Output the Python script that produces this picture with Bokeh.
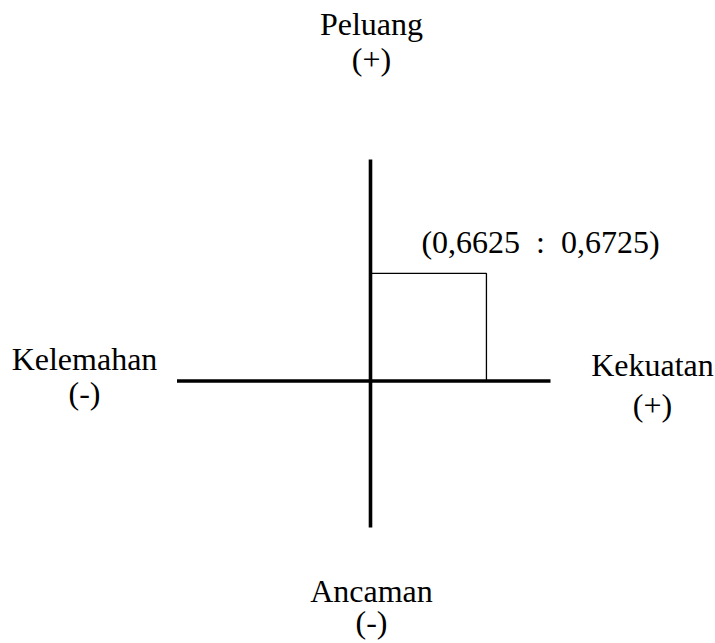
from bokeh.plotting import figure
from bokeh.embed import file_html
from bokeh.resources import INLINE
from bokeh.models import Range1d
from bokeh.core.properties import value

# ---- data ----
strength_score = 0.6625      # Kekuatan (x)
opportunity_score = 0.6725   # Peluang (y)
quadrant_names = ["Peluang", "Kelemahan", "Kekuatan", "Ancaman"]
quadrant_signs = ["(+)", "(-)", "(+)", "(-)"]

def fmt(v):
    return f"{v:.4f}".replace(".", ",")

point_label = f"({fmt(strength_score)} \u00a0:\u00a0 {fmt(opportunity_score)})"

# ---- layout (screen pixel geometry) ----
W, H = 715, 643
OX, OY = 370.0, 380.5      # screen position of origin
SX, SY = 175.0, 160.0      # pixels per unit

def dx(px):  # screen x -> data x
    return (px - OX) / SX

def dy(py):  # screen y -> data y
    return (OY - py) / SY

p = figure(width=W, height=H, output_backend="svg", toolbar_location=None,
           x_range=Range1d(dx(0), dx(W)), y_range=Range1d(dy(H), dy(0)),
           min_border=0, outline_line_color=None)
p.axis.visible = False
p.grid.visible = False
p.background_fill_color = "white"
p.border_fill_color = "white"

# box from origin to the point
p.quad(left=[0], right=[strength_score], bottom=[0], top=[opportunity_score],
       fill_alpha=0, line_color="black", line_width=1.3)

# axes
p.segment(x0=[dx(176.5), 0], y0=[0, dy(159)], x1=[dx(550), 0], y1=[0, dy(527)],
          line_color="black", line_width=3.6)

font = value("Liberation Serif")
fs = "32px"

# quadrant names (centre x, baseline y)
name_pos = [(371, 23), (84, 358), (652, 364), (371, 590)]
sign_pos = [(371, 58), (84, 392), (652, 404), (371, 621)]
p.text(x=[dx(a) for a, b in name_pos], y=[dy(b) for a, b in name_pos], text=quadrant_names,
       text_font=font, text_font_size=fs, text_align="center", text_baseline="alphabetic",
       text_color="black")
p.text(x=[dx(a) for a, b in sign_pos], y=[dy(b) for a, b in sign_pos], text=quadrant_signs,
       text_font=font, text_font_size=fs, text_align="center", text_baseline="alphabetic",
       text_color="black")

# point label
p.text(x=[dx(540)], y=[dy(241)], text=[point_label],
       text_font=font, text_font_size=fs, text_align="center", text_baseline="alphabetic",
       text_color="black")

open("out.html", "w").write(file_html(p, INLINE))
